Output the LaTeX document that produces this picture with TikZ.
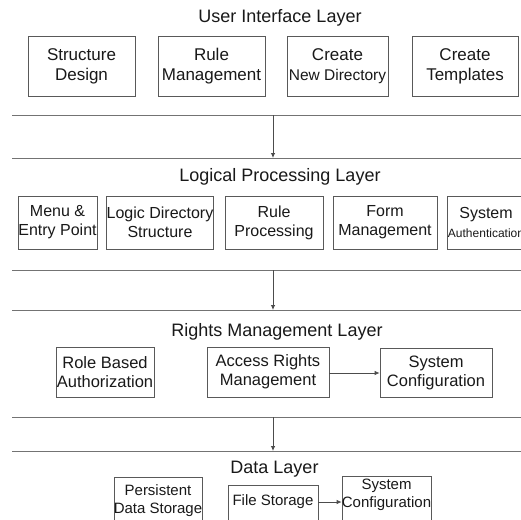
\documentclass[tikz,border=0pt]{standalone}
\usepackage{fontspec}
\setmainfont{Liberation Sans}
\usetikzlibrary{arrows.meta}
\tikzset{
  frame/.style={draw=black!65, line width=0.7pt, inner sep=0pt, align=center, text=black!90},
  sep/.style={draw=black!55, line width=0.8pt},
  flow/.style={draw=black!70, line width=0.8pt, -{Latex[length=5pt,width=4.5pt]}},
  layertitle/.style={font=\fontsize{18}{20}\selectfont, text=black!90, inner sep=0pt},
  fa/.style={font=\fontsize{17}{20}\selectfont},
  fb/.style={font=\fontsize{16}{19}\selectfont},
  fc/.style={font=\fontsize{16.5}{19}\selectfont},
  fd/.style={font=\fontsize{15}{18}\selectfont, text=black!90, inner sep=0pt, align=center},
}
\begin{document}
\begin{tikzpicture}[x=1pt,y=-1pt]
\clip (0,0) rectangle (521,519);
\fill[white] (0,0) rectangle (521,519);

% ---- User Interface Layer
\node[layertitle] (t1) at (280,18) {User Interface Layer};
\node[frame,fa,minimum width=107,minimum height=60] (sd) at (81.5,66) {Structure\\Design};
\node[frame,fa,minimum width=107,minimum height=60] (rm) at (211.5,66) {Rule\\Management};
\node[frame,fa,minimum width=101,minimum height=60] (cnd) at (337.5,66) {Create\\{\fontsize{15.5}{19}\selectfont New Directory}};
\node[frame,fa,minimum width=106,minimum height=60] (ct) at (465,66) {Create\\Templates};

% separators between layers
\coordinate (a1) at (273,115); \coordinate (b1) at (273,158);
\coordinate (a2) at (273,270); \coordinate (b2) at (273,310);
\coordinate (a3) at (273,417); \coordinate (b3) at (273,451);
\foreach \yy in {115,158,270,310,417,451}
  \draw[sep] (12,\yy) -- (521,\yy);
\draw[flow] (a1) -- (b1);
\draw[flow] (a2) -- (b2);
\draw[flow] (a3) -- (b3);

% ---- Logical Processing Layer
\node[layertitle] (t2) at (280,177) {Logical Processing Layer};
\node[frame,fb,minimum width=79,minimum height=53] (menu) at (57.5,222.5) {Menu \&\\Entry Point};
\node[frame,fb,minimum width=106,minimum height=53] (lds) at (160,222.5) {Logic Directory\\Structure};
\node[frame,fb,minimum width=98,minimum height=53] (rp) at (274,222.5) {Rule\\Processing};
\node[frame,fb,minimum width=104,minimum height=53] (fm) at (385,222.5) {Form\\Management};
\node[frame,minimum width=93,minimum height=53] (sa) at (493.5,222.5) {};
\node[fb,inner sep=0pt,align=center,text=black!90] (sat) at (486,222.5) {System\\{\fontsize{12}{17}\selectfont Authentication}};

% ---- Rights Management Layer
\node[layertitle] (t3) at (277,332) {Rights Management Layer};
\node[frame,fc,minimum width=98,minimum height=50] (rba) at (105,372) {Role Based\\Authorization};
\node[frame,fc,minimum width=122,minimum height=50] (arm) at (268,372) {Access Rights\\Management};
\node[frame,fc,minimum width=112,minimum height=49] (sc1) at (436,372.5) {System\\Configuration};
\draw[flow] (arm.east |- 0,373) -- (sc1.west |- 0,373);

% ---- Data Layer
\node[layertitle] (t4) at (274.5,469) {Data Layer};
\node[frame,minimum width=88,minimum height=63] (pds) at (158,508.5) {};
\node[frame,minimum width=90,minimum height=55] (fs) at (273,512.5) {};
\node[frame,minimum width=89,minimum height=64] (sc2) at (386.5,508) {};
\node[fd] (pdst) at (158,501) {Persistent\\Data Storage};
\node[fd] (fst) at (273,502) {File Storage};
\node[fd] (sc2t) at (386.5,495) {System\\Configuration};
\draw[flow] (fs.east |- 0,502) -- (sc2.west |- 0,502);
\end{tikzpicture}
\end{document}
